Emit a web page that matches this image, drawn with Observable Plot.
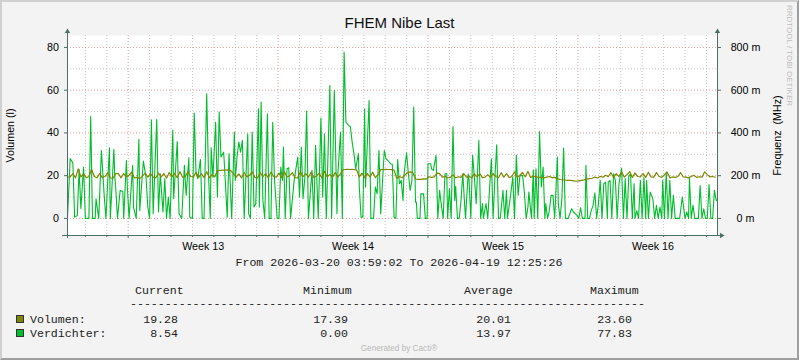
<!DOCTYPE html>
<html><head><meta charset="utf-8">
<script src="https://cdn.jsdelivr.net/npm/d3@7"></script>
<script src="https://cdn.jsdelivr.net/npm/@observablehq/plot@0.6"></script>
<style>
html,body{margin:0;padding:0;background:#f3f3f3;}
#wrap{position:relative;width:799px;height:360px;background:#f3f3f3;overflow:hidden;}
#chart{position:absolute;left:0;top:0;}
#overlay{position:absolute;left:0;top:0;pointer-events:none;}
#frame{position:absolute;left:0;top:0;width:799px;height:360px;box-sizing:border-box;border-top:2px solid #d0d0d0;border-left:2px solid #d0d0d0;border-bottom:2px solid #9e9e9e;border-right:2px solid #9e9e9e;pointer-events:none;}
</style></head><body>
<div id="wrap"><div id="chart"></div><svg id="overlay" width="799" height="360"></svg><div id="frame"></div></div>
<script>
// ---------- data ----------
const startTime = "2026-03-20T03:59:02Z";
const endTime = "2026-04-19T12:25:26Z";
const title = "FHEM Nibe Last";
const leftLabel = "Volumen (l)";
const rightLabel = "Frequenz\u00a0 (MHz)";

// Volumen, sampled every 3 hours from start
const volumenStepHours = 3;
const volumen = [
19.3,19.4,21.0,19.0,23.2,19.4,20.8,19.1,19.5,23.0,
19.6,19.0,21.0,19.1,19.6,21.4,18.9,18.8,21.0,21.0,
19.0,21.0,19.5,20.2,21.6,19.0,19.2,18.6,19.8,21.2,
19.3,21.0,19.3,19.0,21.2,19.4,21.0,18.8,21.5,19.4,
21.1,19.0,21.8,19.3,19.5,22.0,19.6,19.3,21.5,19.2,
21.0,19.1,21.8,19.0,20.5,19.4,22.4,22.5,22.6,22.6,
22.7,22.3,21.0,19.3,20.8,19.0,21.5,19.4,20.2,21.8,
19.2,19.0,21.3,19.5,21.0,18.9,21.7,19.6,19.3,21.2,
19.0,21.9,19.4,20.0,21.4,19.1,19.0,22.0,19.5,21.0,
19.3,21.6,19.1,19.8,21.2,19.0,22.1,19.4,20.6,19.2,
21.5,19.3,21.0,22.8,22.9,22.9,23.0,22.9,22.7,19.4,
21.2,19.0,21.0,19.3,21.6,19.1,20.5,22.8,22.9,23.0,
22.9,22.8,22.6,18.8,19.6,19.0,20.2,21.5,21.8,21.4,
18.4,18.3,18.3,18.5,18.4,19.5,19.2,19.4,21.2,21.0,
19.3,19.6,18.9,19.2,20.4,19.0,19.5,19.2,21.0,19.3,
19.6,19.0,20.8,19.4,21.0,19.1,19.3,20.5,19.2,21.0,
19.5,19.0,21.4,19.3,21.0,19.1,19.6,21.8,19.2,20.2,
21.5,19.4,22.0,19.2,19.8,19.5,19.2,19.4,19.0,19.3,
19.6,19.1,19.2,18.6,18.2,18.1,17.9,17.8,17.8,17.6,
17.4,17.6,17.8,18.0,18.4,18.6,18.8,19.4,18.9,19.6,
19.3,20.2,19.5,21.4,19.2,21.0,19.6,21.8,19.3,20.5,
21.9,19.2,21.3,19.6,19.4,21.0,19.2,21.6,19.4,19.3,
21.5,19.6,19.2,20.5,21.6,19.0,19.4,19.2,19.6,21.5,
19.4,19.3,19.0,19.6,20.2,19.2,19.5,19.3,21.8,20.5,
19.4,19.6,19.28
];

// Verdichter: hours after start, values
const verdichterHours = [
0,3,6,8,11,13,15,18,20,24,26,28,31,32,35,38,41,43,47,48,
52,53,54,56,59,62,63,66,67,69,73,74,77,80,81,85,88,90,92,94,
96,100,102,104,107,109,111,113,115,118,119,123,125,128,131,133,136,137,140,142,
144,146,149,151,153,156,158,160,161,163,166,168,170,172,175,176,179,181,
184,187,188,190,192,194,196,198,202,203,205,207,209,211,214,215,217,219,221,224,
226,228,230,232,235,237,239,241,242,244,246,248,250,254,258,260,262,264,266,268,
270,274,276,278,281,284,286,288,290,291,294,296,299,302,303,306,308,310,312,315,
317,319,321,323,326,327,329,331,333,334,338,340,343,345,347,349,351,355,357,359,
362,364,366,
368,370,372,374,376,377,380,382,384,386,388,390,391,392,395,396,399,401,403,404,
407,408,410,413,415,417,419,421,423,425,426,428,430,432,434,435,437,439,441,443,
446,449,450,452,454,456,458,461,463,465,466,469,471,475,477,479,481,483,485,488,
490,492,493,497,499,501,503,505,507,510,512,514,516,517,520,522,523,525,527,529,
531,533,535,536,538,540,542,544,546,549,550,552,554,556,558,
561,565,567,569,571,573,575,577,580,581,583,585,587,589,591,593,595,597,599,601,
603,605,606,608,610,612,614,616,618,621,623,625,627,629,631,633,635,636,638,640,
642,644,646,648,649,651,653,656,658,660,662,664,666,667,669,671,673,675,677,679,
681,686,689,692,694,696,697,699,701,703,707,709,711,713,715,717,719,721,723,725,
727,728
];
const verdichterValues = [
0,28,26,0.6,1.4,23,4.5,24,0,0,47.7,0,0,9.2,0,31.8,11.5,0,33,0,
32.3,19.3,14.7,0,13.1,12.6,0,27.1,15.4,0,24.8,5.3,0,37,3.7,26.8,19.3,5.3,0,46.2,
2.2,46.3,3,20.9,3,18.6,0,10,0,41.2,9.2,36,2.2,0,24.8,10.8,28.4,0.6,0,49.3,
21.7,18.6,27.6,0,0,58.3,20.9,0,33,19.3,45,10,49.8,28.7,31,24,0.6,30.3,
0,40.4,17.8,28.7,35.7,31,36.5,0,39.6,2.2,0,40.4,5.3,6.9,51.3,5.3,54.4,8.4,0,49,
0,0,45,17.8,0,0,24,17.8,33.4,0,23.2,23.7,0,17.8,28.7,10,33.4,9.2,19.3,50.2,
0,22.5,0,34.2,0,47,10,39.6,0,14.7,62.2,0,59.9,2.2,20.9,40.4,0,77.83,45,43.5,
43,35.7,30.3,23.2,30.3,14.7,0.6,0.6,51.3,14.7,55.2,0,0,14.7,11.5,31.8,2.2,31.8,27.9,27.1,
25.6,25.3,0.6,
0,27.6,16.2,17.8,8.4,20,30.7,20.9,13.1,17.8,52.1,7.6,7.6,0,0,11.5,11.5,0,0,25.6,
25.6,23.2,22.5,29.5,0,13.1,6.1,0,20.9,20.9,0,13.9,0,43,8.4,15,0,0,8.4,20.9,
0,20.9,18,0,29.5,19.3,6.9,36.5,0,6.9,0,6.9,0,27.9,0,19.3,34.5,0,0,13.1,
0,13.1,0,12.3,19.3,0,29.5,10.8,20,20,12.3,0,5.3,12.3,0,22.8,0,23.2,0,40.7,
14.7,24,0,6.9,0,3.7,10.8,10.8,0,28.7,6.9,0,9.2,32.9,0,
0,4.5,3,2.2,1.4,0,5,0,0,24.8,0,0,3.7,6.1,12,0,6.9,17.8,0,16.2,
17,0,17,17.8,0,20.9,17.8,0,16.2,23.4,0,18.6,0,19.7,20.9,0,16.2,0,3.7,0,
17.8,0,19.3,0,17.8,0,12.3,9.2,0,6.1,0,5.3,0,17.8,0,21.7,0,17.8,0,10.8,
0,0,10,0,3,0,19.3,0,6.1,0,0,15.4,0,4.5,0,0,15.9,0,0,13.1,
8.4,8.54
];

const yDomain = [-8, 85.6];
const yMajorTicks = [0, 20, 40, 60, 80];
const yMinorTicks = [10, 30, 50, 70];
const weekStarts = ["2026-03-23T00:00:00Z", "2026-03-30T00:00:00Z", "2026-04-06T00:00:00Z", "2026-04-13T00:00:00Z"];
const weekLabelDates = ["2026-03-26T12:00:00Z", "2026-04-02T12:00:00Z", "2026-04-09T12:00:00Z", "2026-04-16T12:00:00Z"];
const weekLabels = ["Week 13", "Week 14", "Week 15", "Week 16"];

const legendNames = ["Volumen:", "Verdichter:"];
const legendColors = ["#7c8800", "#00bd2c"];
const legendHeaders = ["Current", "Minimum", "Average", "Maximum"];
const legendCurrent = ["19.28", "8.54"];
const legendMinimum = ["17.39", "0.00"];
const legendAverage = ["20.01", "13.97"];
const legendMaximum = ["23.60", "77.83"];

// ---------- build ----------
const HOUR = 3600e3;
const t0 = new Date(startTime), t1 = new Date(endTime);
const volData = volumen.map((v, i) => ({t: new Date(+t0 + i * volumenStepHours * HOUR), v}));
const verData = verdichterHours.map((h, i) => ({t: new Date(+t0 + h * HOUR), v: verdichterValues[i]}));
const majorX = weekStarts.map(d => new Date(d));
const dayX = d3.utcDay.range(d3.utcDay.ceil(t0), t1).filter(d => d.getUTCDay() !== 1);
const labelX = weekLabelDates.map(d => new Date(d));
const labelMap = new Map(labelX.map((d, i) => [+d, weekLabels[i]]));
const axisColor = "#4f6e68";
const minorGrid = "#c6c6c6";
const majorGrid = "#e79c9c";

const plot = Plot.plot({
  width: 799, height: 260,
  marginLeft: 67, marginRight: 82, marginTop: 35, marginBottom: 25,
  style: {fontFamily: "'Liberation Sans', Arial, sans-serif", fontSize: "10.7px", background: "transparent", color: "#000", overflow: "visible"},
  x: {type: "utc", domain: [t0, t1]},
  y: {domain: yDomain},
  marks: [
    Plot.frame({fill: "#ffffff", stroke: null}),
    Plot.gridY(yMinorTicks, {stroke: minorGrid, strokeOpacity: 1, strokeDasharray: "1,2"}),
    Plot.gridX(dayX, {stroke: minorGrid, strokeOpacity: 1, strokeDasharray: "1,2"}),
    Plot.gridY(yMajorTicks, {stroke: majorGrid, strokeOpacity: 1, strokeDasharray: "1,2"}),
    Plot.gridX(majorX, {stroke: majorGrid, strokeOpacity: 1, strokeDasharray: "1,2"}),
    Plot.line(verData, {x: "t", y: "v", stroke: legendColors[1], strokeWidth: 1.1}),
    Plot.line(volData, {x: "t", y: "v", stroke: legendColors[0], strokeWidth: 1.2}),
    Plot.axisY(yMajorTicks, {anchor: "left", tickSize: 3, tickPadding: 5.5, stroke: axisColor, fill: "#000",
      label: leftLabel, labelAnchor: "center", labelOffset: 61, labelArrow: "none"}),
    Plot.axisY(yMajorTicks, {anchor: "right", tickSize: 3, tickPadding: 25, textAnchor: "middle", stroke: axisColor, fill: "#000",
      tickFormat: d => `${d * 10} m`, label: rightLabel, labelAnchor: "center", labelOffset: 63, labelArrow: "none"}),
    Plot.axisX(labelX, {tickSize: 0, tickPadding: 6.5, tickFormat: d => labelMap.get(+d), label: null, fill: "#000"}),
    Plot.axisX(dayX, {tickSize: 2, tickFormat: () => "", label: null, stroke: axisColor}),
    Plot.axisX(majorX, {tickSize: 3, tickFormat: () => "", label: null, stroke: axisColor}),
    Plot.ruleX([t0], {stroke: axisColor, insetTop: -4, insetBottom: -3}),
    Plot.ruleX([t1], {stroke: axisColor, insetTop: -4}),
    Plot.ruleY([yDomain[0]], {stroke: axisColor, insetLeft: -5, insetRight: -4}),
    Plot.dot([0], {frameAnchor: "top-left", symbol: "triangle", r: 2, fill: axisColor, stroke: null, dy: -4}),
    Plot.dot([0], {frameAnchor: "top-right", symbol: "triangle", r: 2, fill: axisColor, stroke: null, dy: -4}),
    Plot.dot([0], {frameAnchor: "bottom-right", symbol: "triangle", r: 2, fill: axisColor, stroke: null, dx: 4, rotate: 90})
  ]
});
document.getElementById("chart").appendChild(plot);

// ---------- overlay texts ----------
const svg = d3.select("#overlay");
const sans = "'Liberation Sans', Arial, sans-serif";
const mono = "'Liberation Mono', 'Courier New', monospace";
svg.append("text").attr("x", 399.5).attr("y", 28).attr("text-anchor", "middle")
  .attr("font-family", sans).attr("font-size", 15).attr("fill", "#111").text(title);
svg.append("text").attr("transform", "translate(787,5) rotate(90)")
  .attr("font-family", sans).attr("font-size", 8).attr("fill", "#bdbdbd").text("RRDTOOL / TOBI OETIKER");
svg.append("text").attr("x", 399).attr("y", 266).attr("text-anchor", "middle")
  .attr("font-family", mono).attr("font-size", 11.6).attr("fill", "#222")
  .text(`From ${startTime.slice(0,10)} ${startTime.slice(11,19)} To ${endTime.slice(0,10)} ${endTime.slice(11,19)}`);
const headerX = [135, 303, 464, 590];
legendHeaders.forEach((h, i) => svg.append("text").attr("x", headerX[i]).attr("y", 294)
  .attr("font-family", mono).attr("font-size", 11.6).attr("fill", "#222").text(h));
svg.append("text").attr("x", 130).attr("y", 306.5).attr("font-family", mono).attr("font-size", 11.6)
  .attr("fill", "#222").text("-".repeat(74));
const colRight = [178, 348, 511, 632];
const cols = [legendCurrent, legendMinimum, legendAverage, legendMaximum];
const rowY = [322.5, 336.5];
legendNames.forEach((n, r) => {
  svg.append("rect").attr("x", 16.5).attr("y", rowY[r] - 7).attr("width", 7).attr("height", 7)
    .attr("fill", legendColors[r]).attr("stroke", "#333");
  svg.append("text").attr("x", 30).attr("y", rowY[r]).attr("font-family", mono).attr("font-size", 11.6)
    .attr("fill", "#222").text(n);
  cols.forEach((c, j) => svg.append("text").attr("x", colRight[j]).attr("y", rowY[r]).attr("text-anchor", "end")
    .attr("font-family", mono).attr("font-size", 11.6).attr("fill", "#222").text(c[r]));
});
svg.append("text").attr("x", 399).attr("y", 351).attr("text-anchor", "middle")
  .attr("font-family", sans).attr("font-size", 8.2).attr("fill", "#b8b8b8").text("Generated by Cacti\u00ae");
</script>
</body></html>
